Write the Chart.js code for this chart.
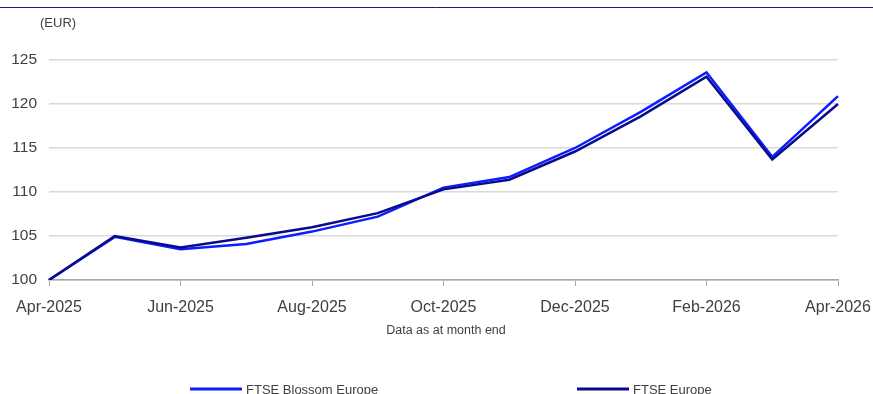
<!DOCTYPE html>
<html>
<head>
<meta charset="utf-8">
<script src="https://cdn.jsdelivr.net/npm/chart.js@4"></script>
<style>
  html, body { margin: 0; padding: 0; background: #fff; }
  #wrap { width: 873px; height: 394px; }
</style>
</head>
<body>
<div id="wrap"><canvas id="perfChart" width="873" height="394"></canvas></div>
<script>
const months = ['Apr-2025', 'May-2025', 'Jun-2025', 'Jul-2025', 'Aug-2025', 'Sep-2025', 'Oct-2025',
    'Nov-2025', 'Dec-2025', 'Jan-2026', 'Feb-2026', 'Mar-2026', 'Apr-2026'];
const blossom = [100, 104.9, 103.5, 104.1, 105.5, 107.2, 110.5, 111.7, 115.0, 119.1, 123.6, 114.0, 120.9];
const europe = [100, 105.0, 103.7, 104.8, 106.0, 107.6, 110.3, 111.4, 114.6, 118.6, 123.1, 113.7, 120.0];
const seriesNames = ['FTSE Blossom Europe', 'FTSE Europe'];
const seriesColors = ['#0a1eff', '#0a0a8c'];

const FONT = '"Liberation Sans", Arial, sans-serif';

// extra text + legend drawn on top of the canvas
const decor = {
    id: 'decor',
    afterDraw(chart) {
        const c = chart.ctx;
        c.save();
        c.strokeStyle = '#1a1a8a';
        c.lineWidth = 1;
        c.beginPath();
        c.moveTo(0, 7.5);
        c.lineTo(873, 7.5);
        c.stroke();

        c.fillStyle = '#404040';
        c.font = '13px ' + FONT;
        c.textBaseline = 'middle';
        c.textAlign = 'left';
        c.fillText('(EUR)', 40, 23);

        c.font = '12.5px ' + FONT;
        c.textAlign = 'center';
        c.fillText('Data as at month end', 446, 331);

        c.font = '13px ' + FONT;
        const legendX = [190, 577];
        seriesNames.forEach((name, i) => {
            c.strokeStyle = seriesColors[i];
            c.lineWidth = 3;
            c.beginPath();
            c.moveTo(legendX[i], 389);
            c.lineTo(legendX[i] + 52, 389);
            c.stroke();
            c.textAlign = 'left';
            c.fillStyle = '#404040';
            c.fillText(name, legendX[i] + 56, 390);
        });
        c.restore();
    }
};

const ctx = document.getElementById('perfChart').getContext('2d');
new Chart(ctx, {
    type: 'line',
    data: {
        labels: months,
        datasets: [
            { label: seriesNames[1], data: europe, borderColor: seriesColors[1], borderWidth: 2.5, pointRadius: 0, tension: 0, fill: false },
            { label: seriesNames[0], data: blossom, borderColor: seriesColors[0], borderWidth: 2.5, pointRadius: 0, tension: 0, fill: false }
        ]
    },
    options: {
        responsive: false,
        animation: false,
        layout: { padding: { left: 0, right: 35, top: 60, bottom: 0 } },
        plugins: { legend: { display: false }, tooltip: { enabled: false } },
        scales: {
            x: {
                offset: false,
                afterFit: s => { s.height = 114; s.paddingRight = 0; s.paddingLeft = 0; },
                border: { display: true, color: '#a6a6a6', width: 1.5 },
                grid: {
                    drawOnChartArea: false,
                    drawTicks: true,
                    tickLength: 6,
                    color: c => (c.index % 2 === 0 ? '#a6a6a6' : 'rgba(0,0,0,0)')
                },
                ticks: {
                    autoSkip: false,
                    maxRotation: 0,
                    padding: 12,
                    color: '#404040',
                    font: { family: FONT, size: 16 },
                    callback: function (v, i) { return i % 2 === 0 ? this.getLabelForValue(v) : ''; }
                }
            },
            y: {
                min: 100,
                max: 125,
                afterFit: s => { s.width = 49; },
                border: { display: false },
                grid: { color: '#d9d9d9', lineWidth: 1.5, drawTicks: false },
                ticks: {
                    stepSize: 5,
                    padding: 12,
                    color: '#404040',
                    font: { family: FONT, size: 15.5 }
                }
            }
        }
    },
    plugins: [decor]
});
</script>
</body>
</html>
